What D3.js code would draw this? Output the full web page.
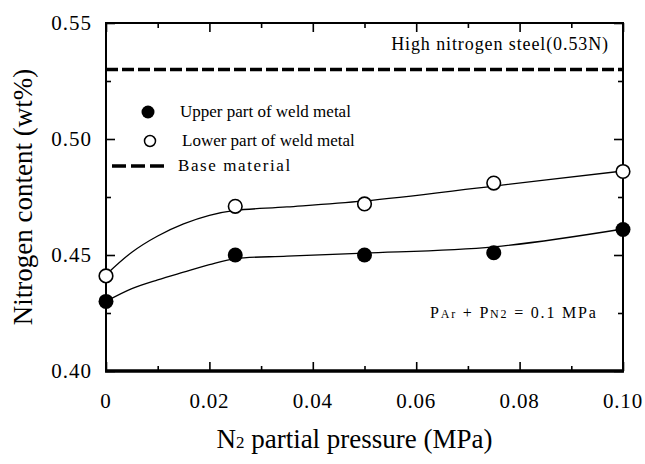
<!DOCTYPE html>
<html>
<head>
<meta charset="utf-8">
<script src="https://cdn.jsdelivr.net/npm/d3@7"></script>
<style>
  body { margin: 0; background: #fff; }
  svg { display: block; font-family: "Liberation Serif", "DejaVu Serif", serif; }
</style>
</head>
<body>
<svg id="chart" width="645" height="464"></svg>
<script>
// values
const pressure = [0, 0.025, 0.05, 0.075, 0.10];
const upperPart = [0.430, 0.450, 0.450, 0.451, 0.461];
const lowerPart = [0.441, 0.471, 0.472, 0.481, 0.486];

// fitted curves
const fitPressure = [0, 0.005, 0.01, 0.015, 0.02, 0.025, 0.035, 0.05, 0.075, 0.10];
const upperFit = [0.4300, 0.4355, 0.4393, 0.4426, 0.4458, 0.4484, 0.4495, 0.4508, 0.4535, 0.4612];
const lowerFit = [0.4415, 0.4512, 0.4582, 0.4634, 0.4671, 0.4692, 0.4707, 0.4733, 0.4797, 0.4862];

const baseMaterial = 0.53;

const xTicks = [0, 0.02, 0.04, 0.06, 0.08, 0.10];
const xTickLabels = ["0", "0.02", "0.04", "0.06", "0.08", "0.10"];
const xMinor = [0.01, 0.03, 0.05, 0.07, 0.09];
const yTicks = [0.40, 0.45, 0.50, 0.55];
const yTickLabels = ["0.40", "0.45", "0.50", "0.55"];
const yMinor = [0.425, 0.475, 0.525];

const legendLabels = ["Upper part of weld metal", "Lower part of weld metal", "Base material"];

const svg = d3.select("#chart");
const plotL = 106, plotR = 623, plotT = 23, plotB = 371;

const x = d3.scaleLinear().domain([0, 0.10]).range([plotL, plotR]);
const y = d3.scaleLinear().domain([0.40, 0.55]).range([plotB, plotT]);

// inward ticks on all four sides
function ticksOnly(axis, vals, size) {
  return axis.tickValues(vals).tickSizeInner(-size).tickSizeOuter(0).tickFormat("");
}
const tickG = svg.append("g").attr("class", "ticks");
[[d3.axisBottom(x), xTicks, 9, `translate(0,${plotB})`],
 [d3.axisBottom(x), xMinor, 5, `translate(0,${plotB})`],
 [d3.axisTop(x), xTicks, 9, `translate(0,${plotT})`],
 [d3.axisTop(x), xMinor, 5, `translate(0,${plotT})`],
 [d3.axisLeft(y), yTicks, 9, `translate(${plotL},0)`],
 [d3.axisLeft(y), yMinor, 5, `translate(${plotL},0)`],
 [d3.axisRight(y), yTicks, 9, `translate(${plotR},0)`],
 [d3.axisRight(y), yMinor, 5, `translate(${plotR},0)`]
].forEach(([ax, vals, size, tr]) => {
  const g = tickG.append("g").attr("transform", tr).call(ticksOnly(ax, vals, size));
  g.select(".domain").remove();
  g.selectAll("line").attr("stroke", "#000").attr("stroke-width", 1.6);
});

// frame
svg.append("rect")
  .attr("x", plotL).attr("y", plotT)
  .attr("width", plotR - plotL).attr("height", plotB - plotT)
  .attr("fill", "none").attr("stroke", "#000").attr("stroke-width", 2);
svg.append("line")
  .attr("x1", plotL - 1).attr("x2", plotR + 1)
  .attr("y1", plotB).attr("y2", plotB)
  .attr("stroke", "#000").attr("stroke-width", 3.5);

// tick labels
svg.append("g").selectAll("text").data(xTicks).join("text")
  .attr("x", d => x(d)).attr("y", 408)
  .attr("text-anchor", "middle").attr("font-size", 21).attr("letter-spacing", 0.8)
  .text((d, i) => xTickLabels[i]);
svg.append("g").selectAll("text").data(yTicks).join("text")
  .attr("x", 92).attr("y", d => y(d)).attr("dy", "0.35em")
  .attr("text-anchor", "end").attr("font-size", 21).attr("letter-spacing", 1)
  .text((d, i) => yTickLabels[i]);

// axis titles
const xt = svg.append("text").attr("x", (plotL + plotR) / 2 - 10).attr("y", 448)
  .attr("text-anchor", "middle").attr("font-size", 27);
xt.append("tspan").text("N");
xt.append("tspan").attr("font-size", 17).text("2");
xt.append("tspan").text(" partial pressure (MPa)");

svg.append("text")
  .attr("transform", `translate(32,${(plotT + plotB) / 2}) rotate(-90)`)
  .attr("text-anchor", "middle").attr("font-size", 27)
  .text("Nitrogen content (wt%)");

// base material line
svg.append("line")
  .attr("x1", plotL).attr("x2", plotR)
  .attr("y1", y(baseMaterial)).attr("y2", y(baseMaterial))
  .attr("stroke", "#000").attr("stroke-width", 3.5)
  .attr("stroke-dasharray", "12,4");
svg.append("text")
  .attr("x", 609).attr("y", 50).attr("text-anchor", "end").attr("font-size", 18)
  .attr("letter-spacing", 0.9)
  .text("High nitrogen steel(0.53N)");

// fitted curves
const line = d3.line()
  .x((d, i) => x(fitPressure[i]))
  .y(d => y(d))
  .curve(d3.curveCatmullRom.alpha(0.5));
[upperFit, lowerFit].forEach(s => {
  svg.append("path").attr("d", line(s))
    .attr("fill", "none").attr("stroke", "#000").attr("stroke-width", 1.3);
});

// data points
svg.append("g").selectAll("circle").data(upperPart).join("circle")
  .attr("cx", (d, i) => x(pressure[i])).attr("cy", d => y(d))
  .attr("r", 7.5).attr("fill", "#000");
svg.append("g").selectAll("circle").data(lowerPart).join("circle")
  .attr("cx", (d, i) => x(pressure[i])).attr("cy", d => y(d))
  .attr("r", 6.8).attr("fill", "#fff").attr("stroke", "#000").attr("stroke-width", 1.6);

// legend
const leg = svg.append("g").attr("font-size", 17);
leg.append("circle").attr("cx", 148).attr("cy", 112).attr("r", 6.5).attr("fill", "#000");
leg.append("text").attr("x", 180).attr("y", 117).text(legendLabels[0]);
leg.append("circle").attr("cx", 150).attr("cy", 141).attr("r", 5.5)
  .attr("fill", "#fff").attr("stroke", "#000").attr("stroke-width", 1.5);
leg.append("text").attr("x", 182).attr("y", 146).text(legendLabels[1]);
leg.append("line").attr("x1", 112).attr("x2", 167).attr("y1", 166).attr("y2", 166)
  .attr("stroke", "#000").attr("stroke-width", 3.5).attr("stroke-dasharray", "14,5");
leg.append("text").attr("x", 178).attr("y", 171).attr("letter-spacing", 1.6).text(legendLabels[2]);

// pressure condition note
const note = svg.append("text").attr("x", 430).attr("y", 318).attr("font-size", 16)
  .attr("letter-spacing", 1.8);
note.append("tspan").text("P");
note.append("tspan").attr("font-size", 12).text("Ar");
note.append("tspan").text(" + P");
note.append("tspan").attr("font-size", 12).text("N2");
note.append("tspan").text(" = 0.1 MPa");
</script>
</body>
</html>
